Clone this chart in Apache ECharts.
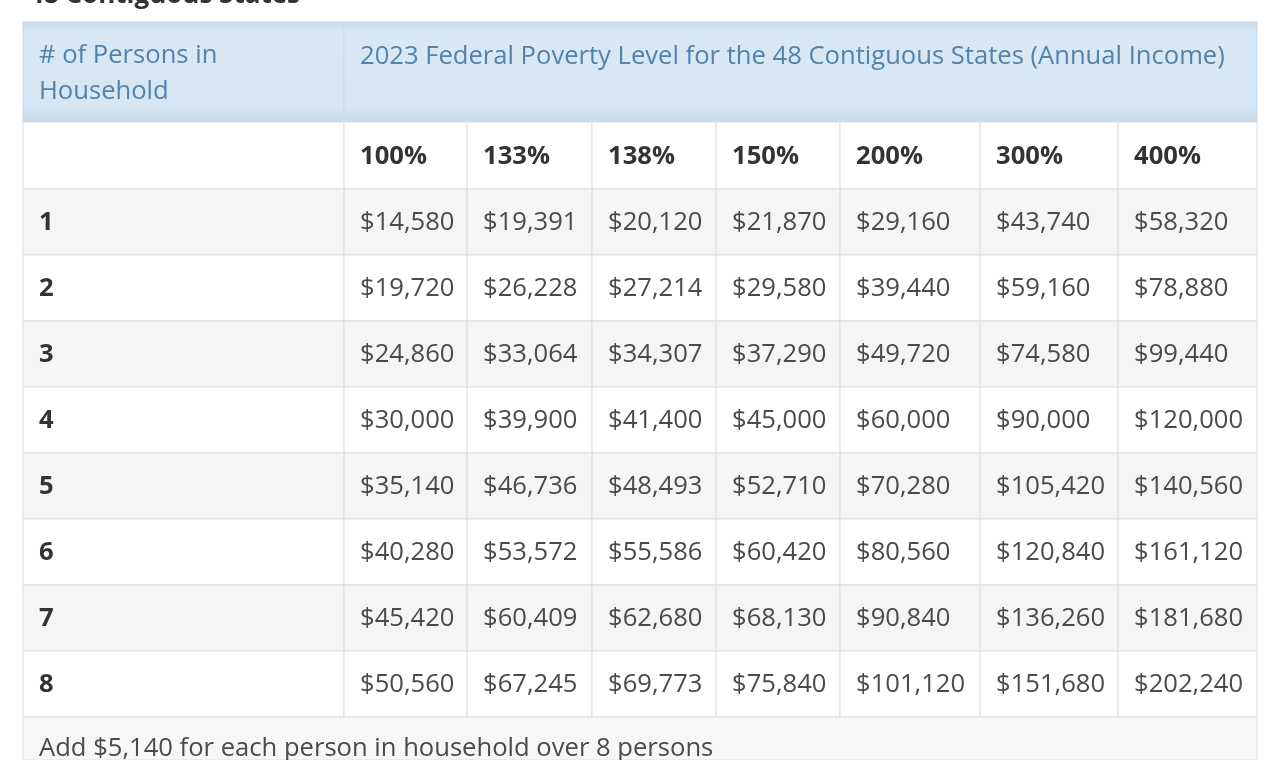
<!DOCTYPE html>
<html>
<head>
<meta charset="utf-8">
<title>2023 Federal Poverty Level</title>
<script src="https://cdn.jsdelivr.net/npm/echarts@6.0.0/dist/echarts.min.js"></script>
<style>
  html, body { margin: 0; padding: 0; background: #fff; }
  #main { width: 1278px; height: 760px; }
</style>
</head>
<body>
<div id="main"></div>
<script>
// data
var pageTitle = '48 Contiguous States';
var headerLeft = '# of Persons in\nHousehold';
var headerRight = '2023 Federal Poverty Level for the 48 Contiguous States (Annual Income)';
var percentLabels = ['100%', '133%', '138%', '150%', '200%', '300%', '400%'];
var householdSizes = ['1', '2', '3', '4', '5', '6', '7', '8'];
var fpl100 = [14580, 19720, 24860, 30000, 35140, 40280, 45420, 50560];
var fpl133 = [19391, 26228, 33064, 39900, 46736, 53572, 60409, 67245];
var fpl138 = [20120, 27214, 34307, 41400, 48493, 55586, 62680, 69773];
var fpl150 = [21870, 29580, 37290, 45000, 52710, 60420, 68130, 75840];
var fpl200 = [29160, 39440, 49720, 60000, 70280, 80560, 90840, 101120];
var fpl300 = [43740, 59160, 74580, 90000, 105420, 120840, 136260, 151680];
var fpl400 = [58320, 78880, 99440, 120000, 140560, 161120, 181680, 202240];
var footNote = 'Add $5,140 for each person in household over 8 persons';

var columns = [fpl100, fpl133, fpl138, fpl150, fpl200, fpl300, fpl400];

// layout (axis units = pixels inside grid)
var colWidths = [321, 123, 125, 124, 124, 140, 138, 139];
var headerH = 100, pctH = 67, rowH = 66, footH = 43;

var colEdges = [0];
for (var i = 0; i < colWidths.length; i++) colEdges.push(colEdges[i] + colWidths[i]);
var tableW = colEdges[colEdges.length - 1];
var tableH = headerH + pctH + rowH * householdSizes.length + footH;

function money(v) {
    return '$' + v.toString().replace(/\B(?=(\d{3})+(?!\d))/g, ',');
}

// cells: [c0, c1, y0, y1, text, kind]
var cells = [];
cells.push([0, 1, 0, headerH, headerLeft, 'headL']);
cells.push([1, 8, 0, headerH, headerRight, 'headR']);
cells.push([0, 1, headerH, headerH + pctH, '', 'pct']);
for (var c = 0; c < percentLabels.length; c++) {
    cells.push([c + 1, c + 2, headerH, headerH + pctH, percentLabels[c], 'pct']);
}
for (var r = 0; r < householdSizes.length; r++) {
    var y0 = headerH + pctH + r * rowH;
    var kind = r % 2 === 0 ? 'odd' : 'even';
    cells.push([0, 1, y0, y0 + rowH, householdSizes[r], kind + 'B']);
    for (var c = 0; c < columns.length; c++) {
        cells.push([c + 1, c + 2, y0, y0 + rowH, money(columns[c][r]), kind]);
    }
}
var footY = headerH + pctH + rowH * householdSizes.length;
cells.push([0, 8, footY, footY + footH, footNote, 'foot']);

var headGrad = new echarts.graphic.LinearGradient(0, 0, 0, 1, [
    { offset: 0, color: '#c6dbee' },
    { offset: 0.12, color: '#d9e8f5' },
    { offset: 0.85, color: '#d6e6f3' },
    { offset: 1, color: '#c4d8ea' }
]);

function renderCell(params, api) {
    var d = cells[params.dataIndex];
    var p0 = api.coord([colEdges[d[0]], d[2]]);
    var p1 = api.coord([colEdges[d[1]], d[3]]);
    var k = d[5];
    var fill = '#ffffff', stroke = '#dedede', color = '#4a4a4a', weight = 'normal';
    var ty = (p0[1] + p1[1]) / 2 + 1;
    if (k === 'headL' || k === 'headR') {
        fill = headGrad; stroke = '#c9dbeb'; color = '#5582a9';
        ty = (p0[1] + p1[1]) / 2 + 2;
        if (k === 'headR') ty = p0[1] + 35;
    } else if (k === 'pct') {
        color = '#333333'; weight = 'bold';
    } else if (k === 'odd' || k === 'oddB') {
        fill = '#f5f5f5';
    } else if (k === 'foot') {
        fill = '#f7f7f7'; ty = p0[1] + 32;
    }
    if (k === 'oddB' || k === 'evenB') { color = '#333333'; weight = 'bold'; }
    return {
        type: 'group',
        children: [{
            type: 'rect',
            shape: { x: p0[0], y: p0[1], width: p1[0] - p0[0], height: p1[1] - p0[1] },
            style: { fill: fill, stroke: stroke, lineWidth: 1 }
        }, {
            type: 'text',
            x: p0[0] + 16,
            y: ty,
            style: {
                text: d[4],
                fill: color,
                font: weight + ' 25.6px "Open Sans", sans-serif',
                lineHeight: 36,
                align: 'left',
                verticalAlign: 'middle'
            }
        }]
    };
}

var option = {
    animation: false,
    backgroundColor: '#ffffff',
    title: {
        text: pageTitle,
        left: 24,
        top: -22,
        textStyle: { fontFamily: 'Open Sans', fontSize: 26, fontWeight: 'bold', color: '#333' }
    },
    grid: { left: 23, top: 22, width: tableW, height: tableH },
    xAxis: { type: 'value', min: 0, max: tableW, show: false },
    yAxis: { type: 'value', min: 0, max: tableH, inverse: true, show: false },
    series: [{
        type: 'custom',
        renderItem: renderCell,
        data: cells.map(function (d, i) { return [i]; }),
        encode: { x: 0, y: 0 },
        silent: true
    }]
};

var myChart = echarts.init(document.getElementById('main'));
myChart.setOption(option);
</script>
</body>
</html>
